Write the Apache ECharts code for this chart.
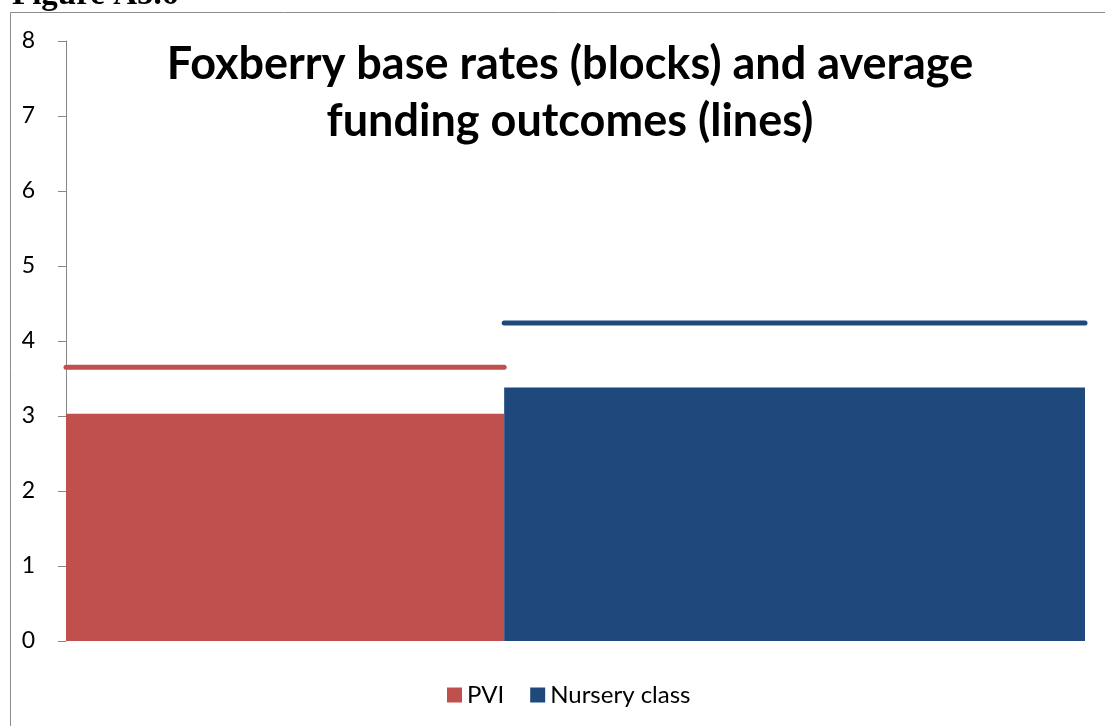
<!DOCTYPE html>
<html>
<head>
<meta charset="utf-8">
<script src="https://cdn.jsdelivr.net/npm/echarts@6/dist/echarts.min.js"></script>
<style>
html,body{margin:0;padding:0;background:#fff;}
#chart{width:1105px;height:726px;}
</style>
</head>
<body>
<div id="chart"></div>
<script>
// Data
var categories = ['PVI', 'Nursery class'];
var widthShares = [43, 57];          // block widths (% of total)
var baseRates = [3.03, 3.38];        // block heights
var fundingOutcomes = [3.65, 4.24];  // line levels
var yTickLabels = ['0','1','2','3','4','5','6','7','8'];
var colors = ['#C0504D', '#1F497D'];

var chart = echarts.init(document.getElementById('chart'));

var starts = [];
var acc = 0;
for (var i = 0; i < widthShares.length; i++) { starts.push(acc); acc += widthShares[i]; }

var series = [];
categories.forEach(function (name, i) {
  series.push({
    name: name,
    type: 'custom',
    itemStyle: { color: colors[i] },
    encode: { x: [0, 1], y: 2 },
    data: [[starts[i], starts[i] + widthShares[i], baseRates[i]]],
    renderItem: function (params, api) {
      var p0 = api.coord([api.value(0), api.value(2)]);
      var p1 = api.coord([api.value(1), 0]);
      return {
        type: 'rect',
        shape: { x: p0[0], y: p0[1], width: p1[0] - p0[0], height: p1[1] - p0[1] },
        style: { fill: colors[i] }
      };
    },
    z: 2
  });
});
categories.forEach(function (name, i) {
  series.push({
    name: name,
    type: 'line',
    data: [[starts[i], fundingOutcomes[i]], [starts[i] + widthShares[i], fundingOutcomes[i]]],
    symbol: 'none',
    lineStyle: { color: colors[i], width: 5, cap: 'round' },
    itemStyle: { color: colors[i] },
    z: 3,
    silent: true
  });
});

chart.setOption({
  animation: false,
  backgroundColor: '#fff',
  textStyle: { fontFamily: 'Lato' },
  title: {
    text: 'Foxberry base rates (blocks) and average\nfunding outcomes (lines)',
    left: 565,
    top: 31,
    textAlign: 'center',
    textStyle: { fontFamily: 'Lato', fontWeight: 'bold', fontSize: 45, lineHeight: 57, color: '#000' }
  },
  legend: {
    data: categories,
    bottom: 14,
    left: 442,
    icon: 'rect',
    itemWidth: 15,
    itemHeight: 15,
    itemGap: 26,
    textStyle: { fontFamily: 'Lato', fontSize: 24, color: '#000' }
  },
  grid: { left: 66, right: 20, top: 41, bottom: 85, containLabel: false },
  xAxis: {
    type: 'value', min: 0, max: 100, show: false
  },
  yAxis: {
    type: 'value', min: 0, max: 8, interval: 1,
    offset: 5,
    splitLine: { show: false },
    axisLine: { show: true, lineStyle: { color: '#868686', width: 1 } },
    axisTick: { show: true, length: 8, lineStyle: { color: '#868686' } },
    axisLabel: {
      margin: 26, color: '#000', fontSize: 23, fontFamily: 'Lato',
      formatter: function (v) { return yTickLabels[Math.round(v)]; }
    }
  },
  graphic: [
    { type: 'rect', shape: { x: 10.5, y: 12.5, width: 1200, height: 800 }, style: { fill: null, stroke: '#8c8c8c', lineWidth: 1 }, silent: true, z: -1 },
    { type: 'text', left: 12, top: -21, style: { text: 'Figure A5.6', font: 'bold 33px "Liberation Serif"', fill: '#000' }, silent: true }
  ],
  series: series
});
</script>
</body>
</html>
